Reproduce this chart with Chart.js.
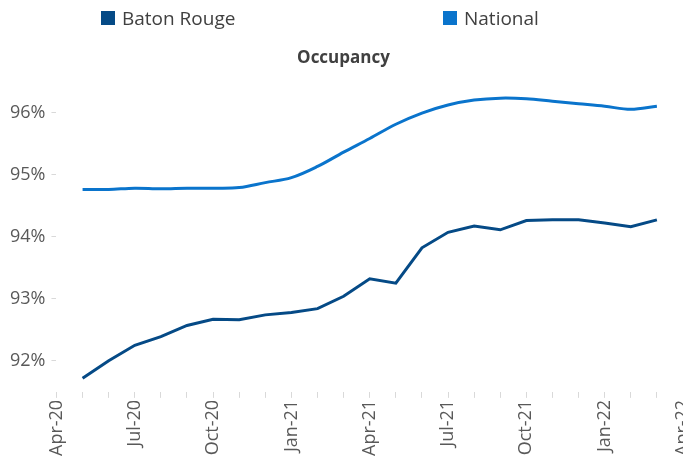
<!DOCTYPE html>
<html>
<head>
<meta charset="utf-8">
<script src="https://cdn.jsdelivr.net/npm/chart.js@4"></script>
<style>
  html, body { margin: 0; padding: 0; background: #fff; overflow: hidden; }
  #wrap { position: relative; width: 683px; height: 465px; }
  #legend { position: absolute; left: 0; top: 0; width: 683px; height: 36px; font-family: "Open Sans", sans-serif; font-size: 19px; color: #404040; }
  .item { position: absolute; top: 5px; display: flex; align-items: center; }
  .box { width: 14px; height: 14px; margin-right: 7px; }
</style>
</head>
<body>
<div id="wrap">
  <canvas id="occ" width="683" height="465"></canvas>
  <div id="legend"></div>
</div>
<script>
const months = ['Apr-20', 'May-20', 'Jun-20', 'Jul-20', 'Aug-20', 'Sep-20', 'Oct-20', 'Nov-20', 'Dec-20',
    'Jan-21', 'Feb-21', 'Mar-21', 'Apr-21', 'May-21', 'Jun-21', 'Jul-21', 'Aug-21', 'Sep-21', 'Oct-21',
    'Nov-21', 'Dec-21', 'Jan-22', 'Feb-22', 'Mar-22', 'Apr-22'];
const batonRouge = [null, 91.72, 92.00, 92.25, 92.39, 92.57, 92.67, 92.66, 92.74, 92.78, 92.84, 93.04,
    93.32, 93.25, 93.82, 94.07, 94.17, 94.11, 94.26, 94.27, 94.27, 94.22, 94.16, 94.27, null];
const national = [null, 94.76, 94.76, 94.78, 94.77, 94.78, 94.78, 94.79, 94.87, 94.95, 95.13, 95.36,
    95.58, 95.81, 95.99, 96.12, 96.20, 96.23, 96.22, 96.18, 96.14, 96.10, 96.05, 96.10, null];
const yTicks = [92, 93, 94, 95, 96];
const legendLeft = [101, 443];

const tickGrey = '#d9d9d9';
const labelGrey = '#595959';

const ctx = document.getElementById('occ').getContext('2d');
const chart = new Chart(ctx, {
    type: 'line',
    data: {
        labels: months,
        datasets: [
            {label: 'Baton Rouge', data: batonRouge, borderColor: '#054a86', backgroundColor: '#054a86',
                borderWidth: 3, pointRadius: 0, tension: 0},
            {label: 'National', data: national, borderColor: '#0a74cc', backgroundColor: '#0a74cc',
                borderWidth: 3, pointRadius: 0, tension: 0.35}
        ]
    },
    options: {
        responsive: false,
        animation: false,
        layout: {padding: {left: 4, right: 0, top: 0, bottom: 7}},
        plugins: {
            legend: {display: false},
            tooltip: {enabled: false},
            title: {
                display: true, text: 'Occupancy', color: '#404040',
                font: {family: 'Open Sans', size: 17, weight: 'bold'},
                padding: {top: 48, bottom: 13}
            }
        },
        scales: {
            x: {
                offset: false,
                grid: {display: true, drawOnChartArea: false, drawTicks: true, tickLength: 6, color: tickGrey},
                border: {display: false},
                ticks: {
                    autoSkip: false, maxRotation: 90, minRotation: 90, padding: 2,
                    color: labelGrey, font: {family: 'Open Sans', size: 18},
                    callback: function (v, i) { return i % 3 === 0 ? this.getLabelForValue(v) : ''; }
                },
                afterFit: function (scale) { scale.paddingRight = 0; scale.paddingLeft = 0; }
            },
            y: {
                min: 91.5, max: 96.5,
                afterBuildTicks: function (scale) { scale.ticks = yTicks.map(v => ({value: v})); },
                grid: {display: true, drawOnChartArea: false, drawTicks: true, tickLength: 5, color: tickGrey},
                border: {display: false},
                ticks: {
                    padding: 6, color: labelGrey, font: {family: 'Open Sans', size: 18},
                    callback: v => v + '%'
                }
            }
        }
    }
});

// legend in html so the two items can sit where the original puts them
const legend = document.getElementById('legend');
chart.data.datasets.forEach((ds, i) => {
    const item = document.createElement('div');
    item.className = 'item';
    item.style.left = legendLeft[i] + 'px';
    item.innerHTML = '<span class="box" style="background:' + ds.backgroundColor + '"></span>' + ds.label;
    legend.appendChild(item);
});
</script>
</body>
</html>
